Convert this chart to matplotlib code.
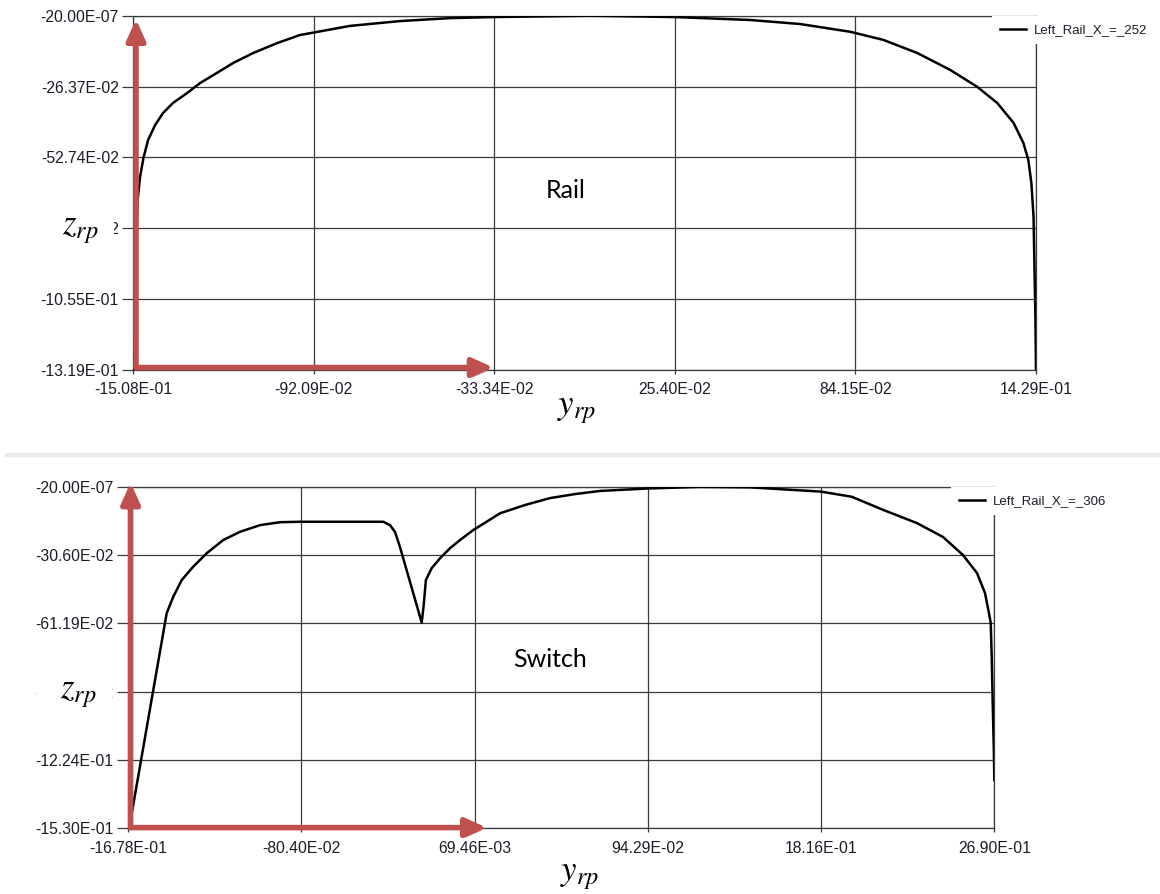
import matplotlib
matplotlib.use("Agg")
import matplotlib.pyplot as plt
import matplotlib.patheffects as pe
from matplotlib.patches import Rectangle
from matplotlib.lines import Line2D

plt.rcParams['mathtext.fontset'] = 'stix'

# rail head profile (y_rp, z_rp)
rail_y = [-1.506, -1.502, -1.499, -1.496, -1.494, -1.486, -1.475, -1.460, -1.437, -1.411,
          -1.379, -1.333, -1.291, -1.236, -1.183, -1.118, -1.040, -0.966, -0.803, -0.640,
          -0.477, -0.334, -0.020, 0.254, 0.499, 0.662, 0.825, 0.932, 1.043, 1.150,
          1.238, 1.303, 1.356, 1.388, 1.404, 1.414, 1.421, 1.424, 1.427, 1.429]
rail_z = [-1.319, -1.133, -0.910, -0.761, -0.686, -0.600, -0.530, -0.463, -0.407, -0.362,
          -0.325, -0.288, -0.251, -0.213, -0.176, -0.139, -0.102, -0.072, -0.038, -0.020,
          -0.009, -0.005, 0.000, -0.005, -0.016, -0.031, -0.060, -0.090, -0.139, -0.202,
          -0.265, -0.325, -0.399, -0.474, -0.537, -0.623, -0.749, -0.936, -1.122, -1.319]

# switch blade profile
switch_y = [-1.674, -1.659, -1.483, -1.450, -1.407, -1.349, -1.281, -1.198, -1.113, -1.012,
            -0.911, -0.811, -0.391, -0.357, -0.332, -0.307, -0.197, -0.186, -0.176, -0.147,
            -0.105, -0.055, -0.004, 0.063, 0.130, 0.198, 0.324, 0.450, 0.576, 0.702,
            0.944, 1.206, 1.458, 1.816, 1.971, 2.130, 2.300, 2.431, 2.532, 2.603,
            2.643, 2.663, 2.672, 2.677, 2.682, 2.688, 2.690]
switch_z = [-1.530, -1.463, -0.567, -0.493, -0.418, -0.358, -0.298, -0.239, -0.202, -0.172,
            -0.159, -0.157, -0.157, -0.172, -0.202, -0.269, -0.609, -0.521, -0.418, -0.365,
            -0.321, -0.276, -0.239, -0.194, -0.157, -0.119, -0.082, -0.051, -0.033, -0.019,
            -0.008, -0.001, -0.003, -0.022, -0.045, -0.104, -0.163, -0.225, -0.306, -0.387,
            -0.476, -0.566, -0.610, -0.763, -0.969, -1.193, -1.314]

rail_xlabels = ['-15.08E-01', '-92.09E-02', '-33.34E-02', '25.40E-02', '84.15E-02', '14.29E-01']
rail_ylabels = ['-13.19E-01', '-10.55E-01', '-79.11E-02', '-52.74E-02', '-26.37E-02', '-20.00E-07']
switch_xlabels = ['-16.78E-01', '-80.40E-02', '69.46E-03', '94.29E-02', '18.16E-01', '26.90E-01']
switch_ylabels = ['-15.30E-01', '-12.24E-01', '-91.79E-02', '-61.19E-02', '-30.60E-02', '-20.00E-07']

W, H = 1160, 894
fig = plt.figure(figsize=(W / 100, H / 100), dpi=100)

RED = '#c0504d'
GRID = '#3a3a3a'
TICKFONT = 'Liberation Sans'


def px(x, y):
    return x / W, 1 - y / H


def setup(ax, xlabels, ylabels):
    xt = [float(s) for s in xlabels]
    yt = [float(s) for s in ylabels]
    ax.set_xlim(xt[0], xt[-1])
    ax.set_ylim(yt[0], yt[-1])
    ax.set_xticks(xt)
    ax.set_xticklabels(xlabels, fontfamily=TICKFONT, fontsize=11.3, color='#1c1c28')
    ax.set_yticks(yt)
    ax.set_yticklabels(ylabels, fontfamily=TICKFONT, fontsize=11.3, color='#1c1c28')
    ax.grid(True, color=GRID, lw=0.9)
    for s in ax.spines.values():
        s.set_color(GRID)
        s.set_linewidth(0.9)
    ax.tick_params(axis='y', length=8, width=0.9, color=GRID, pad=2.5)
    ax.tick_params(axis='x', length=3, width=0.9, color=GRID, pad=6)


def arrow(ax, start, tip):
    ann = ax.annotate('', xy=tip, xytext=start, xycoords='axes fraction',
                      textcoords='axes fraction', annotation_clip=False,
                      arrowprops=dict(arrowstyle='-|>,head_length=0.62,head_width=0.28',
                                      mutation_scale=20, lw=4, color=RED,
                                      shrinkA=0, shrinkB=0))
    ann.set_zorder(5)
    ann.arrow_patch.set_path_effects([
        pe.withSimplePatchShadow(offset=(2, -2), shadow_rgbFace='#777777', alpha=0.35)])


def zlabel(cx, cy, box):
    x0, y0, x1, y1 = box
    fig.patches.append(Rectangle(px(x0, y1), (x1 - x0) / W, (y1 - y0) / H,
                                 transform=fig.transFigure, facecolor='white',
                                 edgecolor='none', zorder=2))
    fig.text(*px(cx, cy), r'$z_{rp}$', fontsize=25, ha='center', va='center', zorder=3)


# top: rail
ax1 = fig.add_axes([133.3 / W, 1 - 370 / H, 902.7 / W, 354.3 / H])
setup(ax1, rail_xlabels, rail_ylabels)
ax1.plot(rail_y, rail_z, color='black', lw=1.8, zorder=3, label='Left_Rail_X_=_252',
         solid_joinstyle='round')
ax1.text(0.479, 0.507, 'Rail', transform=ax1.transAxes, fontfamily='Lato', fontsize=18,
         ha='center', va='center')
arrow(ax1, (0.003, 0.007), (0.003, 0.990))
arrow(ax1, (0.003, 0.007), (0.399, 0.007))

# bottom: switch
ax2 = fig.add_axes([128 / W, 1 - 828.3 / H, 866.3 / W, 341.6 / H])
setup(ax2, switch_xlabels, switch_ylabels)
ax2.plot(switch_y, switch_z, color='black', lw=1.8, zorder=3, label='Left_Rail_X_=_306',
         solid_joinstyle='round')
ax2.text(0.487, 0.493, 'Switch', transform=ax2.transAxes, fontfamily='Lato', fontsize=18,
         ha='center', va='center')
arrow(ax2, (0.003, 0.002), (0.003, 1.012))
arrow(ax2, (0.003, 0.002), (0.414, 0.002))

for ax, anchor in ((ax1, px(992, 16)), (ax2, px(951, 487))):
    leg = ax.legend(loc='upper left', bbox_to_anchor=anchor, bbox_transform=fig.transFigure,
                    prop={'family': TICKFONT, 'size': 9.5}, frameon=True, fancybox=False,
                    borderpad=0.6, borderaxespad=0, handlelength=2.0, handletextpad=0.6)
    leg.get_frame().set_facecolor('white')
    leg.get_frame().set_edgecolor('none')
    leg.get_frame().set_alpha(1)
    for t in leg.get_texts():
        t.set_color('#1c1c28')

# axis name labels
zlabel(80, 229, (37, 211, 114, 247))
zlabel(78, 693, (37, 676, 112, 708))
fig.text(*px(577, 409), r'$y_{rp}$', fontsize=25, ha='center', va='center')
fig.text(*px(580, 875), r'$y_{rp}$', fontsize=25, ha='center', va='center')

# divider between the two panels
fig.add_artist(Line2D([7 / W, 1], [1 - 455 / H] * 2, transform=fig.transFigure,
                      color='#ececec', lw=3))

fig.savefig('out.png', dpi=100, facecolor='white')
